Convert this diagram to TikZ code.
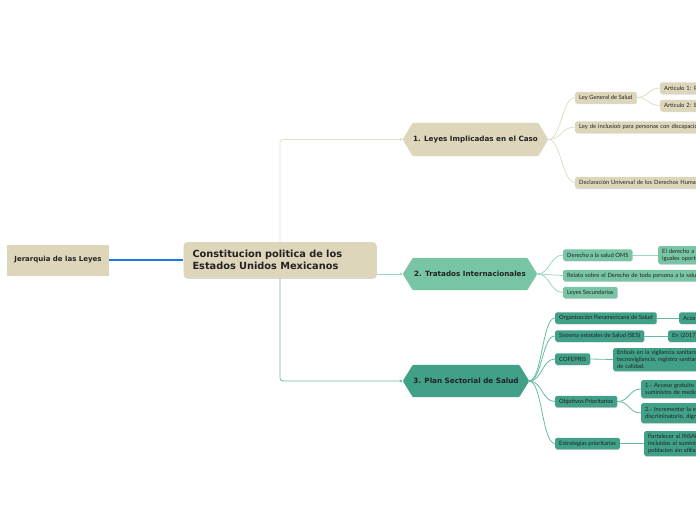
\documentclass[tikz,border=0pt]{standalone}
\usepackage{fontspec}
\setmainfont{DejaVu Sans}
\newfontfamily\latof{Lato}
\usetikzlibrary{arrows.meta,backgrounds,shadows}
\definecolor{beige}{HTML}{DDD6BB}
\definecolor{bline}{HTML}{E3DCC6}
\definecolor{lgreen}{HTML}{77C5A5}
\definecolor{gline}{HTML}{9CD6BE}
\definecolor{tealb}{HTML}{40A088}
\definecolor{tline}{HTML}{66BAA3}
\definecolor{blueline}{HTML}{1A78E5}
\definecolor{txt}{HTML}{222222}
\newcommand\hexbg[2]{%
  \begin{pgfonlayer}{background}
    \fill[black,opacity=0.12,rounded corners=1pt,xshift=0.4pt,yshift=-0.9pt] (#1.west) -- ([xshift=10pt]#1.north west) -- ([xshift=-10pt]#1.north east) -- (#1.east) -- ([xshift=-10pt]#1.south east) -- ([xshift=10pt]#1.south west) -- cycle;
    \fill[#2,rounded corners=1pt] (#1.west) -- ([xshift=10pt]#1.north west) -- ([xshift=-10pt]#1.north east) -- (#1.east) -- ([xshift=-10pt]#1.south east) -- ([xshift=10pt]#1.south west) -- cycle;
  \end{pgfonlayer}}
\tikzset{
  shd/.style={drop shadow={shadow xshift=0.4pt,shadow yshift=-0.9pt,opacity=0.15,fill=black}},
  box/.style={shd,rounded corners=1.6pt,inner xsep=4pt,inner ysep=0pt,minimum height=11.5pt,
    font=\latof\fontsize{5.8}{7}\selectfont,text=txt,align=left,anchor=west},
  bbox/.style={box,fill=beige},
  gbox/.style={box,fill=lgreen},
  tbox/.style={box,fill=tealb},
  hexn/.style={inner sep=0pt,font=\bfseries\fontsize{7.2}{9}\selectfont,text=txt},
  con/.style={line width=0.8pt},
  arr/.style={con,rounded corners=3pt,-{Stealth[length=3.2pt,width=3.2pt]}},
}
\begin{document}
\begin{tikzpicture}[x=1pt,y=-1pt]
\path[use as bounding box] (0,0) rectangle (696,520);
\clip (0,0) rectangle (696,520);

% left and root
\node[shd,fill=beige,minimum width=102pt,minimum height=31pt,inner sep=0pt,
  font=\bfseries\fontsize{7}{9}\selectfont,text=txt] (jer) at (58,260) {Jerarquia de las Leyes};
\node[shd,fill=beige,rounded corners=4pt,text width=175pt,inner xsep=9pt,minimum height=36pt,
  align=left,font=\bfseries\fontsize{9.8}{11.4}\selectfont,text=txt] (root) at (280,260)
  {Constitucion politica de los\\Estados Unidos Mexicanos};
\draw[blueline,line width=2pt] (jer.east) -- (root.west);

% hexagons
\node[hexn,minimum width=145pt,minimum height=33pt] (h1) at (475.5,139.5) {1. Leyes Implicadas en el Caso};
\node[hexn,minimum width=134pt,minimum height=32pt] (h2) at (470,274) {2. Tratados Internacionales};
\node[hexn,minimum width=126pt,minimum height=32pt] (h3) at (466,381) {3. Plan Sectorial de Salud};
\hexbg{h1}{beige}
\hexbg{h2}{lgreen}
\hexbg{h3}{tealb}

\draw[bline,arr] (root.north) |- (h1.west);
\draw[gline,arr] (root.east |- h2.west) -- (h2.west);
\draw[tline,arr] (root.south) |- (h3.west);

% branch 1
\node[bbox] (lgs) at (575,97.5) {Ley General de Salud};
\node[bbox,text width=60pt] (a1) at (660,88) {Articulo 1: P};
\node[bbox,text width=60pt] (a2) at (660,105.5) {Articulo 2: El};
\node[bbox,text width=150pt] (lic) at (575,127) {Ley de inclusioò para personas con discapacidad};
\node[bbox,text width=150pt] (dudh) at (575,182.5) {Declaración Universal de los Derechos Humanos};
\foreach \t in {lgs,lic,dudh}
  \draw[bline,con] (h1.east) .. controls +(13,0) and +(-13,0) .. (\t.west);
\foreach \t in {a1,a2}
  \draw[bline,con] (lgs.east) .. controls +(12,0) and +(-12,0) .. (\t.west);

% branch 2
\node[gbox] (oms) at (563,255) {Derecho a la salud OMS};
\node[gbox,text width=60pt,minimum height=18pt] (der) at (658,255) {El derecho a\\iguales oportu};
\node[gbox,text width=150pt] (rel) at (563,275.5) {Relato sobre el Derecho de toda persona a la salud f};
\node[gbox] (ls) at (563,292.5) {Leyes Secundarias};
\foreach \t in {oms,rel,ls}
  \draw[gline,con] (h2.east) .. controls +(13,0) and +(-13,0) .. (\t.west);
\draw[gline,con] (oms.east) -- (der.west);

% branch 3
\node[tbox] (ops) at (555,318) {Organización Panamericana de Salud};
\node[tbox,text width=40pt] (acc) at (679,318) {Acce};
\node[tbox] (ses) at (555,336) {Sistema estatales de Salud (SES)};
\node[tbox,text width=40pt] (en) at (668,336) {En (2017)};
\node[tbox] (cof) at (555,359) {COFEPRIS};
\node[tbox,text width=100pt,minimum height=23pt] (enf) at (613,359.5) {Enfasis en la vigilancia sanitaria\\tecnovigilancia, registro sanitario\\de calidad.};
\node[tbox] (obj) at (555,401.5) {Objetivos Prioritarios};
\node[tbox,text width=70pt,minimum height=18pt] (o1) at (641,389) {1.- Acceso gratuito a\\suministro de medica};
\node[tbox,text width=70pt,minimum height=20pt] (o2) at (641,413) {2.- Incrementar la efi\\discriminatorio, digna};
\node[tbox] (est) at (555,443.5) {Estrategias prioritarias};
\node[tbox,text width=70pt,minimum height=25pt] (fort) at (644,443.5) {Fortalecer al INSABI\\incluidos el suministro\\poblacion sin afiliacion};
\foreach \t in {ops,ses,cof,obj,est}
  \draw[tline,con] (h3.east) .. controls +(13,0) and +(-13,0) .. (\t.west);
\draw[tline,con] (ops.east) -- (acc.west);
\draw[tline,con] (ses.east) -- (en.west);
\draw[tline,con] (cof.east) -- (enf.west);
\draw[tline,con] (est.east) -- (fort.west);
\foreach \t in {o1,o2}
  \draw[tline,con] (obj.east) .. controls +(12,0) and +(-12,0) .. (\t.west);
\end{tikzpicture}
\end{document}
